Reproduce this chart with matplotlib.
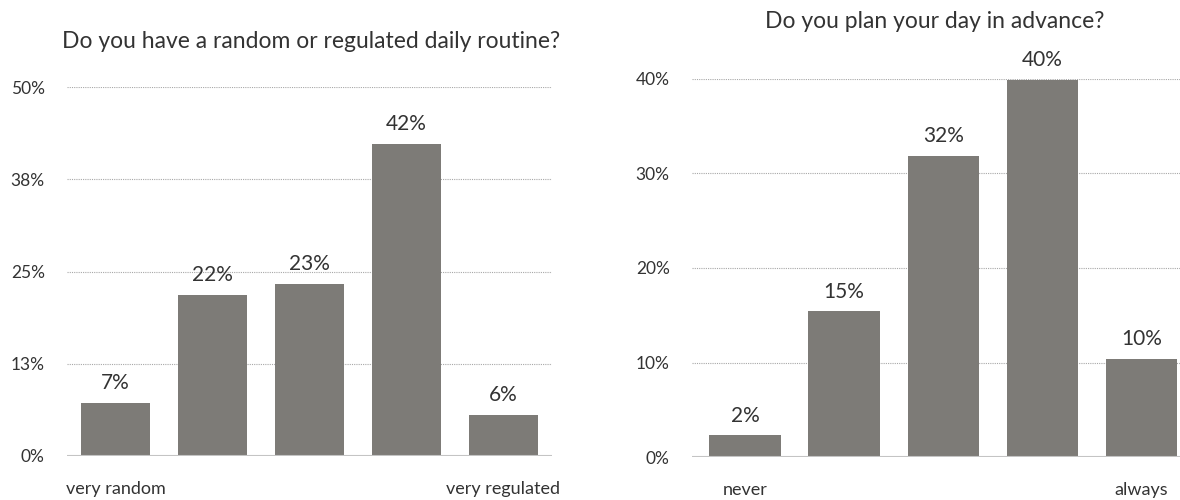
import matplotlib
matplotlib.use('Agg')
import matplotlib.pyplot as plt

# Data
routine_title = 'Do you have a random or regulated daily routine?'
routine_cats = ['very random', '', '', '', 'very regulated']
routine_values = [7.2, 21.8, 23.3, 42.3, 5.6]
routine_yticks = [0, 12.5, 25, 37.5, 50]
routine_yticklabels = ['0%', '13%', '25%', '38%', '50%']

plan_title = 'Do you plan your day in advance?'
plan_cats = ['never', '', '', '', 'always']
plan_values = [2.3, 15.4, 31.9, 39.9, 10.4]
plan_yticks = [0, 10, 20, 30, 40]
plan_yticklabels = ['0%', '10%', '20%', '30%', '40%']

BAR = '#7d7b77'
TEXT = '#333333'
plt.rcParams['font.family'] = ['Lato', 'DejaVu Sans']

fig = plt.figure(figsize=(11.8, 5), dpi=100)


def bar_panel(rect, cats, values, yticks, yticklabels, title, xlim, title_y):
    ax = fig.add_axes(rect)
    x = list(range(len(values)))
    ax.bar(x, values, width=0.72, color=BAR, zorder=3)
    for xi, v in zip(x, values):
        ax.annotate(f'{round(v)}%', (xi, v), xytext=(0, 7), textcoords='offset points',
                    ha='center', va='bottom', fontsize=15, color=TEXT)
    ax.set_xlim(xlim)
    ax.set_ylim(0, yticks[-1])
    ax.set_yticks(yticks)
    ax.set_yticklabels(yticklabels, fontsize=12.5, color=TEXT)
    ax.set_xticks(x)
    ax.set_xticklabels(cats, fontsize=13, color=TEXT)
    ax.tick_params(axis='both', length=0)
    ax.tick_params(axis='y', pad=16)
    ax.tick_params(axis='x', pad=18)
    for s in ax.spines:
        ax.spines[s].set_visible(False)
    for t in yticks[1:]:
        ax.axhline(t, color='#a8a8a8', lw=0.8, ls=(0, (1, 1)), zorder=1)
    ax.axhline(0, color='#c4c4c4', lw=1.5, zorder=4)
    fig.text(title_y[0], title_y[1], title, ha='center', va='center', fontsize=16.5, color=TEXT)
    return ax


bar_panel([67 / 1180, 44 / 500, 485 / 1180, 369 / 500], routine_cats, routine_values,
          routine_yticks, routine_yticklabels, routine_title, (-0.5, 4.5), (311 / 1180, 1 - 42 / 500))
bar_panel([692 / 1180, 43 / 500, 488 / 1180, 378 / 500], plan_cats, plan_values,
          plan_yticks, plan_yticklabels, plan_title, (-0.535, 4.39), (935 / 1180, 1 - 22 / 500))

plt.savefig('out.png', dpi=100)
